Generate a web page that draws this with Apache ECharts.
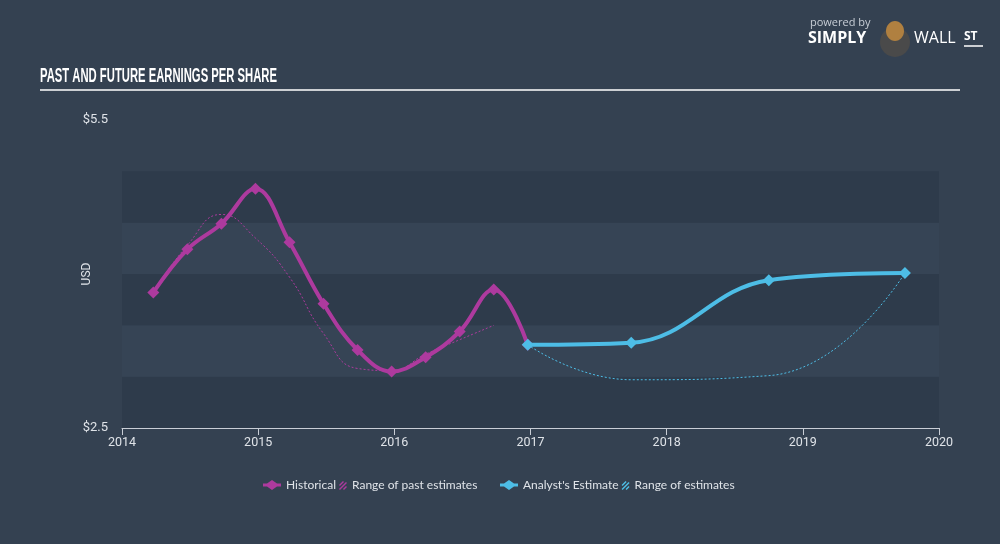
<!DOCTYPE html>
<html>
<head>
<meta charset="utf-8">
<script src="https://cdn.jsdelivr.net/npm/echarts@6/dist/echarts.min.js"></script>
<style>
  html, body { margin: 0; padding: 0; background: #344151; }
  #chart { width: 1000px; height: 544px; }
</style>
</head>
<body>
<div id="chart"></div>
<script>
// 年份刻度 / 纵轴只显示两端标签
const yearTicks = [2014, 2015, 2016, 2017, 2018, 2019, 2020]
const yLabelValues = [2.5, 5.5]

// 历史 EPS (季度)
const histYears = [2014.23, 2014.48, 2014.73, 2014.98, 2015.23, 2015.48, 2015.73, 2015.98, 2016.23, 2016.48, 2016.73, 2016.98]
const histEps = [3.82, 4.24, 4.49, 4.83, 4.31, 3.71, 3.26, 3.05, 3.19, 3.44, 3.85, 3.31]

// 过去的预测范围
const pastRangeYears = [2014.23, 2014.48, 2014.73, 2014.98, 2015.23, 2015.48, 2015.73, 2015.98, 2016.23, 2016.48, 2016.73]
const pastRangeEps = [3.82, 4.28, 4.58, 4.35, 3.97, 3.42, 3.08, 3.06, 3.22, 3.36, 3.50]

// 分析师预测
const estYears = [2016.98, 2017.74, 2018.75, 2019.75]
const estEps = [3.31, 3.33, 3.94, 4.01]
const estLowEps = [3.31, 2.97, 3.01, 4.01]

const pink = '#ad3a9e'
const blue = '#4dbde6'
const textColor = '#dfe3e8'

const pair = (xs, ys) => xs.map((x, i) => [x, ys[i]])

// 图例图标：菱形 + 粗线段；斜线阴影（右对齐，左上角极小三角形撑开边界）
const diamondIcon = 'path://M0,3.6 L4,3.6 L9,0 L14,3.6 L18,3.6 L18,6.4 L14,6.4 L9,10 L4,6.4 L0,6.4 Z'
const hatchIcon = 'path://M0,0 L0.02,0 L0,0.02 Z M10,5 L14,1 L15,2 L11,6 Z M10,9 L17,2 L18,3 L11,10 Z M14,9 L17,6 L18,7 L15,10 Z'

// 标题压缩宽度
const titleText = 'PAST AND FUTURE EARNINGS PER SHARE'
const titleFont = 'bold 20px "Liberation Sans"'
const ctx = document.createElement('canvas').getContext('2d')
ctx.font = titleFont
const titleScale = 237 / ctx.measureText(titleText).width

const myChart = echarts.init(document.getElementById('chart'))

const legendText = { color: textColor, fontFamily: 'Lato', fontSize: 12 }

const option = {
  backgroundColor: '#344151',
  animation: false,
  grid: { left: 122, right: 61, top: 120, bottom: 116 },
  graphic: [
    {
      type: 'text', x: 40, y: 66, scaleX: titleScale,
      style: { text: titleText, font: titleFont, fill: '#ffffff' }
    },
    {
      type: 'line', shape: { x1: 40, y1: 90, x2: 960, y2: 90 },
      style: { stroke: '#ffffff', lineWidth: 1.5 }
    },
    // logo
    {
      type: 'text', left: 810, top: 17,
      style: { text: 'powered by', font: '11px "Open Sans"', fill: '#c8ced6' }
    },
    {
      type: 'text', left: 808, top: 30,
      style: { text: 'SIMPLY', font: 'bold 16px "Open Sans"', fill: '#ffffff' }
    },
    {
      type: 'circle', shape: { cx: 895, cy: 42, r: 15 },
      style: { fill: '#4a4a4a' }
    },
    {
      type: 'ellipse', shape: { cx: 895, cy: 31, rx: 9, ry: 10 },
      style: { fill: '#b08040' }
    },
    {
      type: 'text', left: 914, top: 30,
      style: { text: 'WALL', font: '16px "Open Sans"', fill: '#ffffff' }
    },
    {
      type: 'text', left: 964, top: 31,
      style: { text: 'ST', font: 'bold 12px "Open Sans"', fill: '#ffffff' }
    },
    {
      type: 'line', shape: { x1: 964, y1: 46, x2: 983, y2: 46 },
      style: { stroke: '#ffffff', lineWidth: 1.5 }
    }
  ],
  legend: [
    {
      left: 258, top: 474, itemWidth: 18, itemHeight: 10, itemGap: -7,
      textStyle: legendText,
      data: [
        { name: 'Historical', icon: diamondIcon },
        { name: 'Range of past estimates', icon: hatchIcon }
      ]
    },
    {
      left: 495, top: 474, itemWidth: 18, itemHeight: 10, itemGap: -7,
      textStyle: legendText,
      data: [
        { name: "Analyst's Estimate", icon: diamondIcon },
        { name: 'Range of estimates', icon: hatchIcon }
      ]
    }
  ],
  xAxis: {
    type: 'value',
    min: yearTicks[0],
    max: yearTicks[yearTicks.length - 1],
    interval: 1,
    axisLine: { lineStyle: { color: '#c9ced6', width: 1 } },
    axisTick: { show: true, length: 7, lineStyle: { color: '#c9ced6' } },
    axisLabel: {
      color: textColor, fontFamily: 'Roboto', fontSize: 12.5, margin: 8,
      formatter: v => String(v)
    },
    splitLine: { show: false }
  },
  yAxis: {
    type: 'value',
    min: yLabelValues[0],
    max: yLabelValues[1],
    interval: 0.5,
    name: 'USD',
    nameLocation: 'middle',
    nameGap: 29,
    nameMoveOverlap: false,
    nameTextStyle: { color: textColor, fontFamily: 'Roboto', fontSize: 12 },
    axisLine: { show: false },
    axisTick: { show: false },
    axisLabel: {
      color: textColor, fontFamily: 'Roboto', fontSize: 13, margin: 14,
      formatter: v => (yLabelValues.includes(v) ? '$' + v.toFixed(1) : '')
    },
    splitLine: { show: false },
    splitArea: {
      show: true,
      areaStyle: {
        color: ['#2e3b4b', '#364455', '#2e3b4b', '#364455', '#2e3b4b', 'rgba(0,0,0,0)']
      }
    }
  },
  series: [
    {
      name: 'Range of past estimates',
      type: 'line',
      smooth: 0.5,
      symbol: 'none',
      z: 2,
      itemStyle: { color: pink },
      lineStyle: { color: pink, width: 1, type: [2, 2] },
      data: pair(pastRangeYears, pastRangeEps)
    },
    {
      name: 'Range of estimates',
      type: 'line',
      smooth: 0.5,
      symbol: 'none',
      z: 2,
      itemStyle: { color: blue },
      lineStyle: { color: blue, width: 1, type: [2, 2] },
      data: pair(estYears, estLowEps)
    },
    {
      name: 'Historical',
      type: 'line',
      smooth: 0.4,
      symbol: 'diamond',
      symbolSize: 12,
      z: 3,
      itemStyle: { color: pink },
      lineStyle: { color: pink, width: 4 },
      data: pair(histYears, histEps)
    },
    {
      name: "Analyst's Estimate",
      type: 'line',
      smooth: 0.4,
      symbol: 'diamond',
      symbolSize: 12,
      z: 4,
      itemStyle: { color: blue },
      lineStyle: { color: blue, width: 4 },
      data: pair(estYears, estEps)
    }
  ]
}
myChart.setOption(option)
</script>
</body>
</html>
